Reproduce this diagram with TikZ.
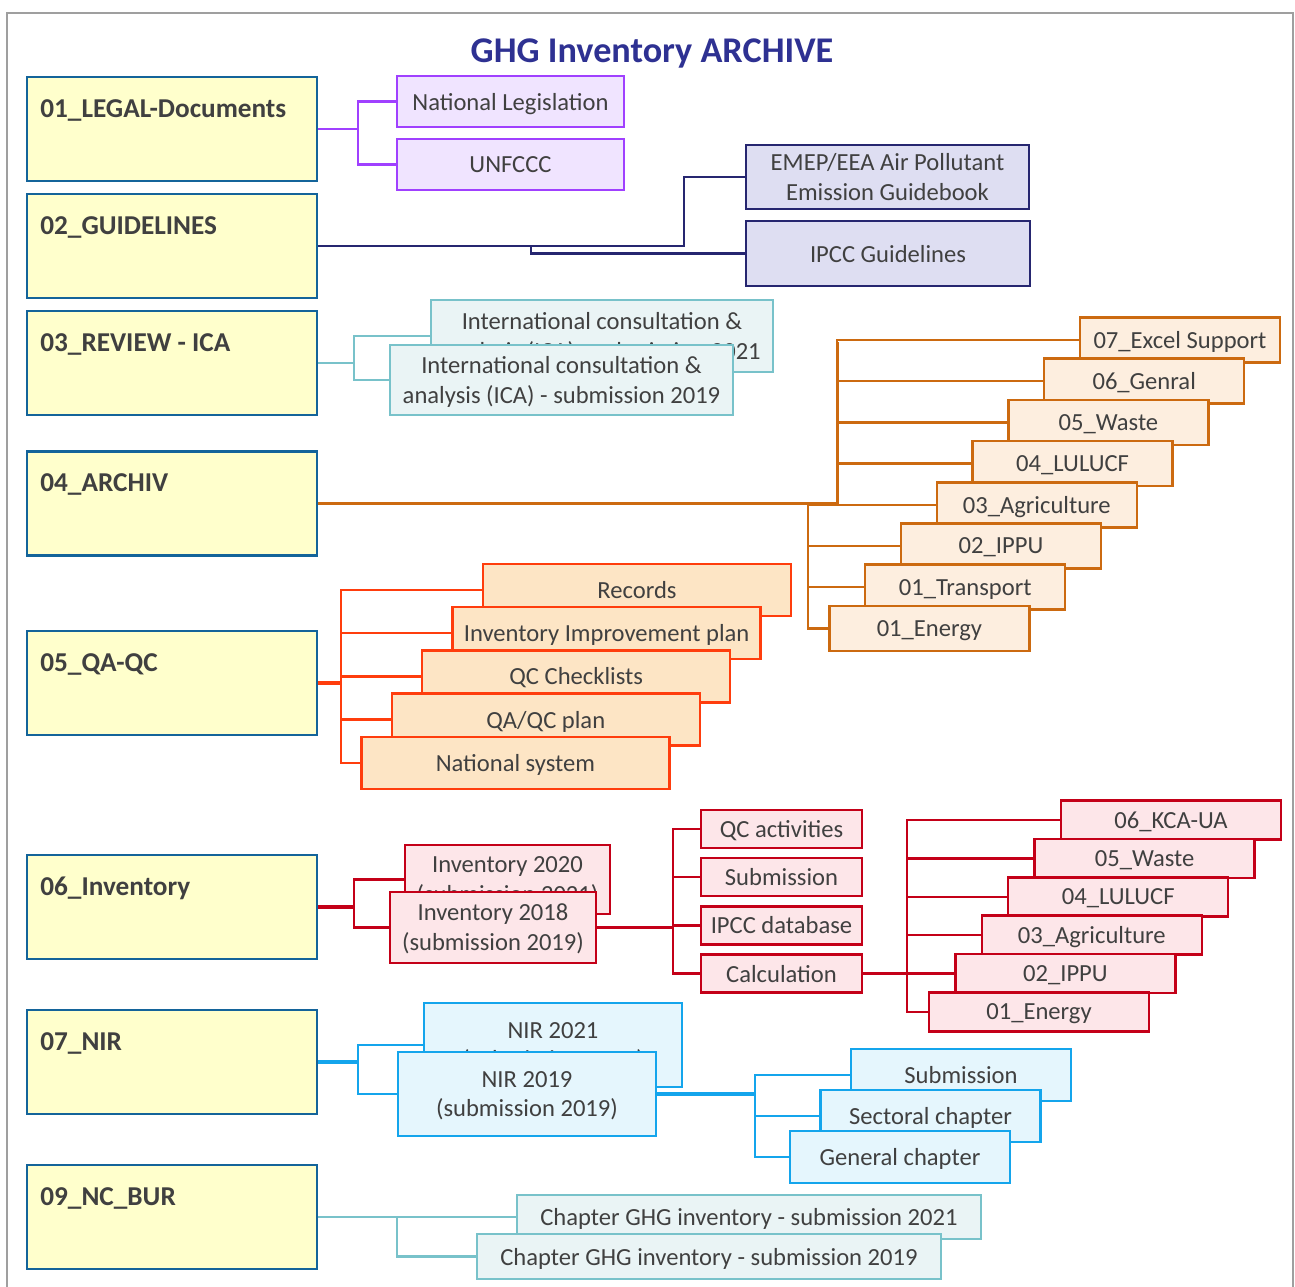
\documentclass[tikz,border=0pt]{standalone}
\usepackage{fontspec}
\setmainfont{Carlito}
\usepackage{tikz}
\usetikzlibrary{backgrounds, calc}
\definecolor{txt}{HTML}{404040}
\definecolor{titleblue}{HTML}{2E3192}
\definecolor{folderblue}{HTML}{14649A}
\definecolor{folderyellow}{HTML}{FFFFCC}
\definecolor{lilac}{HTML}{A040FF}
\definecolor{lilacfill}{HTML}{F0E4FF}
\definecolor{navy}{HTML}{262670}
\definecolor{navyfill}{HTML}{DEDEF2}
\definecolor{teal}{HTML}{78C2CA}
\definecolor{tealfill}{HTML}{EAF4F5}
\definecolor{ochre}{HTML}{CC6A10}
\definecolor{ochrefill}{HTML}{FDEEDF}
\definecolor{flame}{HTML}{FF3D0D}
\definecolor{flamefill}{HTML}{FDE5C5}
\definecolor{wine}{HTML}{C40018}
\definecolor{winefill}{HTML}{FDE6E9}
\definecolor{sky}{HTML}{14A5EC}
\definecolor{skyfill}{HTML}{E5F6FD}

\tikzset{
  folder/.style={draw=folderblue, fill=folderyellow, line width=1.4pt, minimum width=5.8cm, minimum height=2.08cm, inner sep=0pt},
  foldername/.style={font=\bfseries\fontsize{15.5}{18}\selectfont, text=txt, anchor=west, inner sep=0pt},
  sub/.style={line width=1.4pt, inner sep=0pt, text depth=0pt, align=center, text=txt, font=\fontsize{14}{17}\selectfont},
  link/.style={line width=1.3pt},
  trunk/.style={line width=1.9pt}
}

\begin{document}
\begin{tikzpicture}[x=0.02cm, y=-0.02cm]
    \useasboundingbox (0,0) rectangle (1295,1286);
    \draw[gray!75, line width=1.1pt] (7,1300) |- (1293,13) -- (1293,1300);
    \node[font=\bfseries\fontsize{20.6}{24}\selectfont, text=titleblue] (title) at (652,53) {GHG Inventory ARCHIVE};
    % folders
    \foreach \n/\y/\t in {l1/129/01\_LEGAL-Documents, l2/246/02\_GUIDELINES, l3/363/03\_REVIEW - ICA, l4/503.5/04\_ARCHIV, l5/683/05\_QA-QC, l6/907/06\_Inventory, l7/1062/07\_NIR, l9/1217/09\_NC\_BUR} {
        \node[folder] (\n) at (172,\y) {};
        \node[foldername] (\n-name) at (40,{\y-19}) {\t};
    }
    % 01 legal
    \node[sub, draw=lilac, fill=lilacfill, minimum width=4.54cm, minimum height=1.02cm] (natleg) at (510.5,101.5) {National Legislation};
    \node[sub, draw=lilac, fill=lilacfill, minimum width=4.54cm, minimum height=1.02cm] (unfccc) at (510.5,164.5) {UNFCCC};
    % 02 guidelines
    \node[sub, draw=navy, fill=navyfill, minimum width=5.66cm, minimum height=1.28cm] (emep) at (887.5,177) {EMEP/EEA Air Pollutant\\Emission Guidebook};
    \node[sub, draw=navy, fill=navyfill, minimum width=5.68cm, minimum height=1.3cm] (ipccgl) at (888,253.5) {IPCC Guidelines};
    % 03 review
    \node[sub, draw=teal, fill=tealfill, minimum width=6.84cm, minimum height=1.44cm] (ica21) at (602,336) {International consultation \&\\analysis (ICA) - submission 2021};
    \node[sub, draw=teal, fill=tealfill, minimum width=6.86cm, minimum height=1.4cm] (ica19) at (561.5,380) {International consultation \&\\analysis (ICA) - submission 2019};
    % 04 archiv
    \foreach \n/\t [count=\i from 0] in {a7/07\_Excel Support, a6/06\_Genral, a5/05\_Waste, a4/04\_LULUCF, a3/03\_Agriculture, a2/02\_IPPU, a1/01\_Transport, a0/01\_Energy}
        \node[sub, draw=ochre, fill=ochrefill, minimum width=4cm, minimum height=0.9cm] (\n) at ({1180-35.8*\i},{340+41.2*\i}) {\t};
    % 05 qa-qc
    \foreach \n/\t [count=\i from 0] in {rec/Records, iip/Inventory Improvement plan, qcc/QC Checklists, qaqc/{QA/QC plan}, natsys/National system}
        \node[sub, draw=flame, fill=flamefill, minimum width=6.16cm, minimum height=1.04cm] (\n) at ({637-30.4*\i},{590+43.2*\i}) {\t};
    % 06 inventory
    \node[sub, draw=wine, fill=winefill, minimum width=4.1cm, minimum height=1.38cm] (inv20) at (507.5,879.5) {Inventory 2020\\(submission 2021)};
    \node[sub, draw=wine, fill=winefill, minimum width=4.12cm, minimum height=1.42cm] (inv18) at (493,927.5) {Inventory 2018\\(submission 2019)};
    \foreach \n/\t [count=\i from 0] in {qcact/QC activities, isub/Submission, ipccdb/IPCC database, calc/Calculation}
        \node[sub, draw=wine, fill=winefill, minimum width=3.22cm, minimum height=0.76cm] (\n) at ({781.5},{829+48.2*\i}) {\t};
    \foreach \n/\t [count=\i from 0] in {r6/06\_KCA-UA, r5/05\_Waste, r4/04\_LULUCF, r3/03\_Agriculture, r2/02\_IPPU, r1/01\_Energy}
        \node[sub, draw=wine, fill=winefill, minimum width=4.4cm, minimum height=0.78cm] (\n) at ({1171-26.4*\i},{820+38.4*\i}) {\t};
    % 07 nir
    \node[sub, draw=sky, fill=skyfill, minimum width=5.16cm, minimum height=1.68cm] (nir21) at (553,1045) {NIR 2021\\(submission 2021)};
    \node[sub, draw=sky, fill=skyfill, minimum width=5.16cm, minimum height=1.68cm] (nir19) at (527,1094) {NIR 2019\\(submission 2019)};
    \foreach \n/\t [count=\i from 0] in {nsub/Submission, nsec/Sectoral chapter, ngen/General chapter}
        \node[sub, draw=sky, fill=skyfill, minimum width=4.4cm, minimum height=1.04cm] (\n) at ({961-30.5*\i},{1075+41*\i}) {\t};
    % 09 nc_bur
    \node[sub, draw=teal, fill=tealfill, minimum width=9.28cm, minimum height=0.88cm] (ch21) at (749,1217) {Chapter GHG inventory - submission 2021};
    \node[sub, draw=teal, fill=tealfill, minimum width=9.28cm, minimum height=0.9cm] (ch19) at (709,1256.5) {Chapter GHG inventory - submission 2019};

    % connectors
    \begin{scope}[on background layer]
        \draw[link, lilac] (l1.east) -- ++(40,0) coordinate (j1) |- (natleg.west);
        \draw[link, lilac] (j1) |- (unfccc.west);
        \coordinate (j2) at (531,246);
        \draw[link, navy] (l2.east) -- ++(366,0) |- (emep.west);
        \draw[link, navy] (j2) |- (ipccgl.west);
        \draw[link, teal] (l3.east) -- ++(36,0) coordinate (j3) |- (ica21.west);
        \draw[link, teal] (j3) |- (ica19.west);
        \draw[trunk, ochre] (l4.east) -- ++(519,0) coordinate (j4) -- ++(0,-162);
        \coordinate (k4) at (808,503.5);
        \foreach \n in {a7,a6,a5,a4} \draw[link, ochre] (j4) |- (\n.west);
        \foreach \n in {a3,a2,a1,a0} \draw[link, ochre] (k4) |- (\n.west);
        \draw[trunk, flame] (l5.east) -- ++(23,0) coordinate (j5);
        \foreach \n in {rec,iip,qcc,qaqc,natsys} \draw[link, flame] (j5) |- (\n.west);
        \draw[trunk, wine] (l6.east) -- ++(36,0) coordinate (j6);
        \foreach \n in {inv20,inv18} \draw[link, wine] (j6) |- (\n.west);
        \draw[trunk, wine] (inv18.east) -- ++(76,0) coordinate (k6);
        \foreach \n in {qcact,isub,ipccdb,calc} \draw[link, wine] (k6) |- (\n.west);
        \draw[trunk, wine] (calc.east) -- ++(44,0) coordinate (m6);
        \foreach \n in {r6,r5,r4,r3,r2,r1} \draw[link, wine] (m6) |- (\n.west);
        \draw[trunk, sky] (l7.east) -- ++(40,0) coordinate (j7);
        \foreach \n in {nir21,nir19} \draw[link, sky] (j7) |- (\n.west);
        \draw[trunk, sky] (nir19.east) -- ++(98,0) coordinate (k7);
        \foreach \n in {nsub,nsec,ngen} \draw[link, sky] (k7) |- (\n.west);
        \coordinate (j9) at (397,1217);
        \draw[link, teal] (l9.east) -- (ch21.west);
        \draw[link, teal] (j9) |- (ch19.west);
    \end{scope}
\end{tikzpicture}
\end{document}
